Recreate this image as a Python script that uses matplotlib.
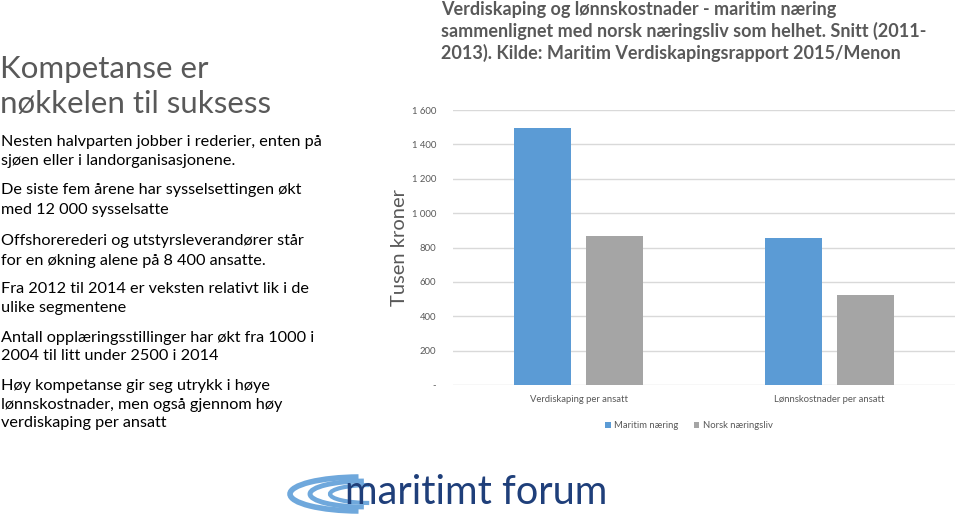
import matplotlib.pyplot as plt
import numpy as np
from matplotlib.patches import Arc
from matplotlib.ticker import FuncFormatter

plt.rcParams['font.family'] = ['Lato', 'DejaVu Sans']

# --- data ---
categories = ["Verdiskaping per ansatt", "Lønnskostnader per ansatt"]
series_names = ["Maritim næring", "Norsk næringsliv"]
maritim = [1497, 857]
norsk = [868, 524]
y_ticks = [0, 200, 400, 600, 800, 1000, 1200, 1400, 1600]

slide_title = ["Kompetanse er", "nøkkelen til suksess"]
bullets = [
    ["Nesten halvparten jobber i rederier, enten på", "sjøen eller i landorganisasjonene."],
    ["De siste fem årene har sysselsettingen økt", "med 12 000 sysselsatte"],
    ["Offshorerederi og utstyrsleverandører står", "for en økning alene på 8 400 ansatte."],
    ["Fra 2012 til 2014 er veksten relativt lik i de", "ulike segmentene"],
    ["Antall opplæringsstillinger har økt fra 1000 i", "2004 til litt under 2500 i 2014"],
    ["Høy kompetanse gir seg utrykk i høye", "lønnskostnader, men også gjennom høy",
     "verdiskaping per ansatt"],
]
chart_title = ["Verdiskaping og lønnskostnader - maritim næring",
               "sammenlignet med norsk næringsliv som helhet. Snitt (2011-",
               "2013). Kilde: Maritim Verdiskapingsrapport 2015/Menon"]

COLORS = ["#5B9BD5", "#A5A5A5"]
GRAY = "#595959"
W, H = 960, 515

fig = plt.figure(figsize=(9.6, 5.15), dpi=100)


def fy(py):
    return 1 - py / H


# left-hand slide text
for line, py in zip(slide_title, [69, 104]):
    fig.text(0.0, fy(py), line, fontsize=22.5, color=GRAY, fontweight="normal",
             ha="left", va="center")

bullet_y = [[142, 161], [190, 210], [241, 261], [289, 308], [338, 356], [386, 405, 423]]
for lines, ys in zip(bullets, bullet_y):
    for line, py in zip(lines, ys):
        fig.text(0.001, fy(py), line, fontsize=11.7, color="black",
                 ha="left", va="center")

# chart title
for line, py in zip(chart_title, [9, 31, 53]):
    fig.text(441 / W, fy(py), line, fontsize=13.0, color=GRAY, fontweight="bold",
             ha="left", va="center")

# bar chart
ax = fig.add_axes([453 / W, fy(385), (955 - 453) / W, (385 - 110) / H])
x = np.arange(len(categories))
bw = 0.227
for i, (vals, name, c) in enumerate(zip([maritim, norsk], series_names, COLORS)):
    off = (i - 0.5) * (bw + 0.06)
    ax.bar(x + off, vals, bw, color=c, label=name, zorder=3)

ax.set_xlim(-0.5, 1.5)
ax.set_ylim(0, 1600)
ax.set_yticks(y_ticks)
ax.yaxis.set_major_formatter(FuncFormatter(
    lambda v, p: "-" if v == 0 else f"{int(v):,}".replace(",", " ")))
ax.set_xticks(x)
ax.set_xticklabels(categories)
ax.tick_params(axis="both", length=0, labelsize=6.8, colors=GRAY)
ax.tick_params(axis="x", pad=7)
ax.tick_params(axis="y", pad=12)
ax.yaxis.grid(True, color="#D9D9D9", linewidth=1, zorder=0)
for s in ax.spines.values():
    s.set_visible(False)
ax.set_ylabel("Tusen kroner", fontsize=14.5, color=GRAY, labelpad=3)

ax.legend(loc="upper center", bbox_to_anchor=(0.47, -0.1), ncol=2, frameon=False,
          fontsize=6.8, labelcolor=GRAY, handlelength=0.6, handleheight=0.6,
          columnspacing=1.6, handletextpad=0.4)

# logo
lax = fig.add_axes([0, 0, 1, 1], facecolor="none")
lax.set_xlim(0, W)
lax.set_ylim(H, 0)
lax.axis("off")
for cx, wid, ht, lw in [(360, 140, 34, 4), (365, 110, 26, 3.5), (370, 80, 18, 3)]:
    lax.add_patch(Arc((cx, 494), wid, ht, theta1=95, theta2=265,
                      color="#6FA8DC", linewidth=lw))
lax.text(345, 493, "maritimt forum", fontsize=28.5, color="#1F3F7A",
         ha="left", va="center")

fig.savefig("out.png", dpi=100)
